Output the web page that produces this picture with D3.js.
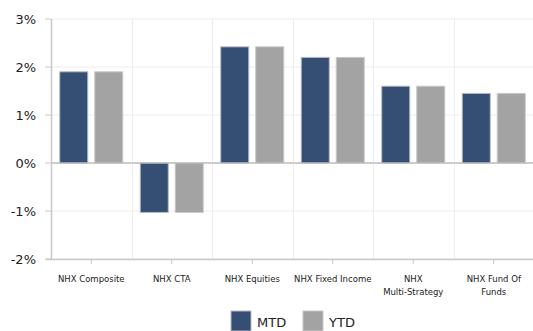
<!DOCTYPE html>
<html>
<head>
<meta charset="utf-8">
<script src="https://cdn.jsdelivr.net/npm/d3@7"></script>
<style>
  body { margin: 0; background: #fff; }
  text { font-family: "DejaVu Sans", Verdana, sans-serif; }
</style>
</head>
<body>
<div id="chart"></div>
<script>
// chart data
const categories = [["NHX Composite"], ["NHX CTA"], ["NHX Equities"], ["NHX Fixed Income"], ["NHX", "Multi-Strategy"], ["NHX Fund Of", "Funds"]];
const seriesNames = ["MTD", "YTD"];
const mtdValues = [1.9, -1.03, 2.42, 2.2, 1.6, 1.45];
const ytdValues = [1.9, -1.03, 2.42, 2.2, 1.6, 1.45];
const yTicks = [-2, -1, 0, 1, 2, 3];
const colors = ["#354e74", "#a3a3a3"];
const borders = ["#b4bac4", "#c8c8c8"];

const W = 533, H = 331;
const margin = {top: 19, right: 0, bottom: 72, left: 51};
const width = W - margin.left - margin.right + 1;
const height = H - margin.top - margin.bottom;

const svg = d3.select("#chart").append("svg")
    .attr("width", W)
    .attr("height", H);

const g = svg.append("g")
    .attr("transform", `translate(${margin.left}, ${margin.top})`);

const x = d3.scaleBand()
    .domain(d3.range(categories.length))
    .range([0, width]);

const x1 = d3.scaleBand()
    .domain(seriesNames)
    .range([0, x.bandwidth()])
    .paddingInner(0.2)
    .paddingOuter(0.25);

const y = d3.scaleLinear()
    .domain([-2, 3])
    .range([height, 0]);

// horizontal grid
g.selectAll(".hgrid").data(yTicks).enter()
    .append("line")
    .attr("x1", 0).attr("x2", width)
    .attr("y1", d => y(d)).attr("y2", d => y(d))
    .attr("stroke", d => d === 0 ? "#bbb" : "#ececec")
    .attr("stroke-width", 1);

// vertical grid between categories
g.selectAll(".vgrid").data(d3.range(1, categories.length + 1)).enter()
    .append("line")
    .attr("x1", d => Math.round(x.step() * d) + 0.5)
    .attr("x2", d => Math.round(x.step() * d) + 0.5)
    .attr("y1", 0).attr("y2", height)
    .attr("stroke", "#ececec");

// bars
const groups = g.selectAll(".cat").data(categories).enter()
    .append("g")
    .attr("transform", (d, i) => `translate(${x(i)},0)`);

groups.selectAll("rect")
    .data((d, i) => [{s: "MTD", v: mtdValues[i]}, {s: "YTD", v: ytdValues[i]}])
    .enter()
    .append("rect")
    .attr("x", d => x1(d.s))
    .attr("width", x1.bandwidth())
    .attr("y", d => y(Math.max(0, d.v)))
    .attr("height", d => Math.abs(y(d.v) - y(0)))
    .attr("fill", (d, i) => colors[i])
    .attr("stroke", (d, i) => borders[i])
    .attr("stroke-width", 1);

// zero line on top
g.append("line")
    .attr("x1", 0).attr("x2", width)
    .attr("y1", y(0)).attr("y2", y(0))
    .attr("stroke", "#bbb");

// left axis line
g.append("line")
    .attr("x1", 0.5).attr("x2", 0.5)
    .attr("y1", 0).attr("y2", height)
    .attr("stroke", "#c8c8c8").attr("stroke-width", 1.5);

// bottom axis line
g.append("line")
    .attr("x1", -5).attr("x2", width)
    .attr("y1", height + 0.5).attr("y2", height + 0.5)
    .attr("stroke", "#c8c8c8").attr("stroke-width", 1.5);

// left ticks and labels
g.selectAll(".ytick").data(yTicks).enter()
    .append("line")
    .attr("x1", -6).attr("x2", 0)
    .attr("y1", d => y(d)).attr("y2", d => y(d))
    .attr("stroke", "#c8c8c8");

g.selectAll(".ylab").data(yTicks).enter()
    .append("text")
    .attr("x", -15)
    .attr("y", d => y(d))
    .attr("dy", "0.35em")
    .attr("text-anchor", "end")
    .attr("font-size", 13)
    .attr("fill", "#222")
    .text(d => d + "%");

// bottom ticks
g.selectAll(".xtick").data(categories).enter()
    .append("line")
    .attr("x1", (d, i) => x(i) + x.bandwidth() / 2)
    .attr("x2", (d, i) => x(i) + x.bandwidth() / 2)
    .attr("y1", height).attr("y2", height + 5)
    .attr("stroke", "#c8c8c8");

const xl = g.selectAll(".xlab").data(categories).enter()
    .append("text")
    .attr("text-anchor", "middle")
    .attr("font-size", 8.5)
    .attr("fill", "#222")
    .attr("transform", (d, i) => `translate(${x(i) + x.bandwidth() / 2}, ${height + 23})`);

xl.selectAll("tspan").data(d => d).enter()
    .append("tspan")
    .attr("x", 0)
    .attr("dy", (d, i) => i === 0 ? 0 : 12.5)
    .text(d => d);

// legend
const legend = svg.append("g").attr("transform", "translate(231, 311)");
const legendItems = legend.selectAll("g").data(seriesNames).enter()
    .append("g")
    .attr("transform", (d, i) => `translate(${i * 72}, 0)`);

legendItems.append("rect")
    .attr("width", 20).attr("height", 20)
    .attr("fill", (d, i) => colors[i])
    .attr("stroke", (d, i) => borders[i]);

legendItems.append("text")
    .attr("x", 26)
    .attr("y", 11)
    .attr("dy", "0.35em")
    .attr("font-size", 13)
    .attr("fill", "#222")
    .text(d => d);
</script>
</body>
</html>
